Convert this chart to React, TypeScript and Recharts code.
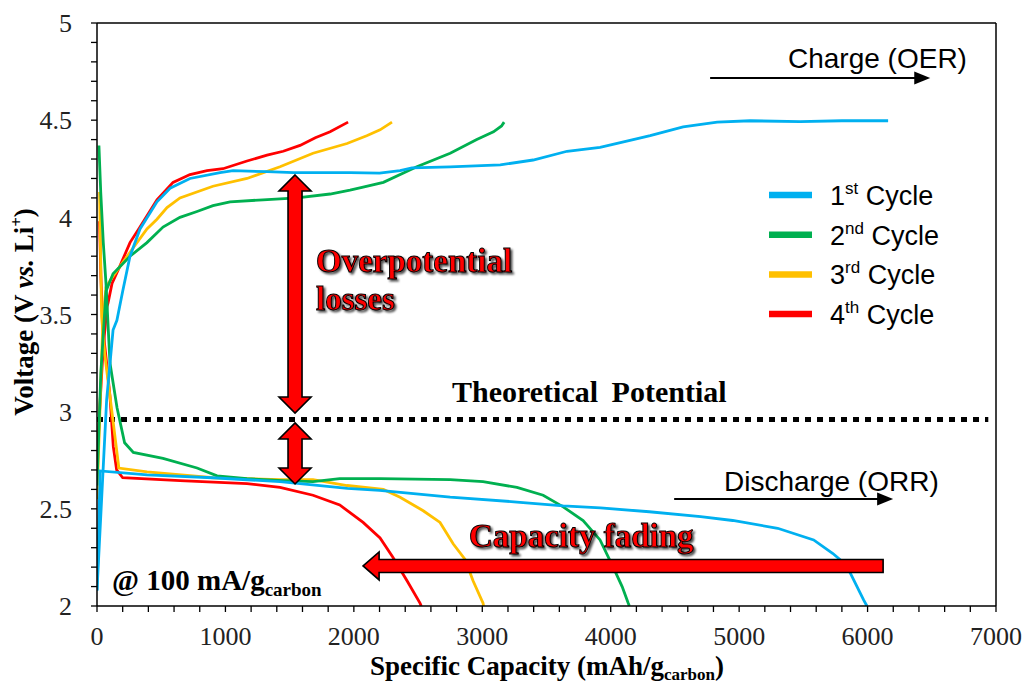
import React from 'react';
import { LineChart, Line, XAxis, YAxis, ReferenceLine } from 'recharts';

// Galvanostatic discharge / charge profiles, [capacity (mAh/g), voltage (V)]
const cycle1Discharge: [number, number][] = [
  [0, 2.08], [25, 2.695], [390, 2.675], [900, 2.66], [1425, 2.64], [1950, 2.605], [2200, 2.595],
  [2750, 2.56], [3270, 2.535], [3630, 2.515], [3920, 2.505], [4300, 2.485], [4700, 2.46], [4950, 2.44],
  [5300, 2.4], [5580, 2.34], [5730, 2.27], [5800, 2.23], [5865, 2.17], [5940, 2.07], [5970, 2.03], [5995, 2.0],
];
const cycle1Charge: [number, number][] = [
  [0, 2.08], [75, 3.06], [125, 3.42], [155, 3.47], [200, 3.62], [257, 3.8], [335, 3.94], [467, 4.08],
  [569, 4.15], [724, 4.2], [958, 4.23], [1060, 4.24], [1324, 4.235], [1530, 4.23], [1970, 4.23], [2200, 4.228],
  [2360, 4.24], [2453, 4.255], [2750, 4.26], [3140, 4.27], [3396, 4.295], [3660, 4.34], [3917, 4.36],
  [4175, 4.4], [4307, 4.42], [4564, 4.465], [4829, 4.49], [5086, 4.497], [5475, 4.492], [5800, 4.497], [6160, 4.497],
];
const cycle2Discharge: [number, number][] = [
  [15, 4.37], [29, 4.13], [49, 3.87], [70, 3.66], [88, 3.42], [101, 3.25], [156, 3.02], [215, 2.84],
  [283, 2.79], [514, 2.76], [779, 2.71], [935, 2.67], [1168, 2.655], [1450, 2.645], [1682, 2.64],
  [1890, 2.655], [2204, 2.655], [2750, 2.65], [3006, 2.64], [3270, 2.61], [3474, 2.57], [3630, 2.51],
  [3785, 2.44], [3917, 2.34], [4019, 2.2], [4089, 2.1], [4136, 2.015], [4145, 2.0],
];
const cycle2Charge: [number, number][] = [
  [0, 2.62], [30, 3.2], [70, 3.62], [125, 3.71], [257, 3.8], [389, 3.87], [514, 3.95], [646, 4.0],
  [779, 4.03], [903, 4.06], [1036, 4.08], [1293, 4.09], [1558, 4.1], [1815, 4.12], [1970, 4.14],
  [2072, 4.155], [2230, 4.18], [2490, 4.26], [2750, 4.33], [2957, 4.4], [3087, 4.44], [3150, 4.47], [3170, 4.49],
];
const cycle3Discharge: [number, number][] = [
  [20, 4.13], [36, 3.49], [60, 3.3], [78, 3.2], [101, 3.08], [170, 2.71], [390, 2.69], [903, 2.66],
  [1425, 2.65], [1682, 2.65], [1947, 2.62], [2230, 2.6], [2360, 2.56], [2540, 2.49], [2671, 2.43],
  [2773, 2.32], [2866, 2.24], [2928, 2.13], [3006, 2.015], [3010, 2.0],
];
const cycle3Charge: [number, number][] = [
  [0, 2.55], [20, 2.95], [45, 3.45], [70, 3.64], [117, 3.69], [257, 3.82], [389, 3.94], [467, 3.99],
  [545, 4.05], [646, 4.1], [903, 4.16], [1168, 4.2], [1425, 4.26], [1682, 4.33], [1947, 4.38],
  [2100, 4.42], [2204, 4.45], [2297, 4.49],
];
const cycle4Discharge: [number, number][] = [
  [20, 3.98], [30, 3.7], [47, 3.42], [75, 3.25], [101, 3.08], [127, 2.82], [153, 2.7], [200, 2.66],
  [646, 2.645], [1168, 2.63], [1425, 2.61], [1682, 2.57], [1890, 2.52], [2072, 2.43], [2204, 2.35],
  [2305, 2.25], [2414, 2.13], [2515, 2.015], [2525, 2.0],
];
const cycle4Charge: [number, number][] = [
  [0, 2.72], [20, 3.0], [47, 3.32], [78, 3.54], [86, 3.56], [117, 3.66], [179, 3.75], [257, 3.87],
  [335, 3.95], [467, 4.09], [592, 4.18], [724, 4.22], [857, 4.24], [981, 4.25], [1168, 4.29],
  [1324, 4.32], [1450, 4.34], [1581, 4.37], [1700, 4.41], [1815, 4.44], [1955, 4.49],
];

const cycleNames = ['1st', '2nd', '3rd', '4th'];
const cycleColors = ['#00b0f0', '#00b050', '#ffc000', '#ff0000'];

const xMajorTicks = [0, 1000, 2000, 3000, 4000, 5000, 6000, 7000];
const yMajorTicks = [2, 2.5, 3, 3.5, 4, 4.5, 5];
const xTicks = Array.from({ length: 36 }, (_, i) => i * 200);
const yTicks = Array.from({ length: 31 }, (_, i) => Math.round((2 + i * 0.1) * 10) / 10);

const theoreticalPotential = 2.96;

const toPoints = (arr: [number, number][]) => arr.map(([cap, v]) => ({ cap, v }));

const serif = '"Liberation Serif", "Times New Roman", serif';
const sans = '"Liberation Sans", Arial, sans-serif';

const isMajor = (list: number[], v: number) => list.some((t) => Math.abs(t - v) < 1e-6);

// Axis tick labels: only the major ticks carry text, minor ticks are bare marks
const renderXTick = (props: any) => {
  const { x, y, payload } = props;
  if (!isMajor(xMajorTicks, payload.value)) return <g />;
  return (
    <text x={x} y={y} dy="0.71em" textAnchor="middle" fill="#222" fontFamily={serif} fontSize={26}>
      {String(payload.value)}
    </text>
  );
};

const renderYTick = (props: any) => {
  const { x, y, payload } = props;
  if (!isMajor(yMajorTicks, payload.value)) return <g />;
  return (
    <text x={x} y={y} dy="0.355em" textAnchor="end" fill="#222" fontFamily={serif} fontSize={26}>
      {String(payload.value)}
    </text>
  );
};

// Block double arrow between two points on a vertical segment
const DoubleArrow = (props: any) => {
  const { x1, y1, y2 } = props;
  const hw = 7, hh = 16, hl = 16;
  const top = Math.min(y1, y2), bot = Math.max(y1, y2);
  const x = x1;
  const pts = [
    [x, top], [x + hh, top + hl], [x + hw, top + hl], [x + hw, bot - hl], [x + hh, bot - hl],
    [x, bot], [x - hh, bot - hl], [x - hw, bot - hl], [x - hw, top + hl], [x - hh, top + hl],
  ].map((p) => p.join(',')).join(' ');
  return <polygon points={pts} fill="#ff0000" stroke="#000" strokeWidth={1.6} />;
};

// Block arrow pointing to the segment's second point (leftwards)
const LeftArrow = (props: any) => {
  const { x1, x2, y1 } = props;
  const hw = 6.5, hh = 14, hl = 16;
  const xr = x1, xl = x2, y = y1;
  const pts = [
    [xl, y], [xl + hl, y - hh], [xl + hl, y - hw], [xr, y - hw], [xr, y + hw], [xl + hl, y + hw], [xl + hl, y + hh],
  ].map((p) => p.join(',')).join(' ');
  return <polygon points={pts} fill="#ff0000" stroke="#000" strokeWidth={1.6} />;
};

// Thin arrow pointing right
const ThinArrow = (props: any) => {
  const { x1, x2, y1 } = props;
  return (
    <g>
      <line x1={x1} y1={y1} x2={x2 - 12} y2={y1} stroke="#000" strokeWidth={2} />
      <polygon points={`${x2},${y1} ${x2 - 16},${y1 - 6.5} ${x2 - 16},${y1 + 6.5}`} fill="#000" />
    </g>
  );
};

const series = [
  { name: 'c4d', data: cycle4Discharge, color: cycleColors[3] },
  { name: 'c4c', data: cycle4Charge, color: cycleColors[3] },
  { name: 'c3d', data: cycle3Discharge, color: cycleColors[2] },
  { name: 'c3c', data: cycle3Charge, color: cycleColors[2] },
  { name: 'c2d', data: cycle2Discharge, color: cycleColors[1] },
  { name: 'c2c', data: cycle2Charge, color: cycleColors[1] },
  { name: 'c1d', data: cycle1Discharge, color: cycleColors[0] },
  { name: 'c1c', data: cycle1Charge, color: cycleColors[0] },
];

const redText = {
  fill: '#ff0000',
  stroke: '#000',
  strokeWidth: 1,
  fontFamily: serif,
  fontWeight: 'bold' as const,
  filter: 'url(#txtShadow)',
};

export default function App() {
  return (
    <div style={{ position: 'absolute', left: 0, top: 0, width: 1026, height: 685, background: '#fff' }}>
      <LineChart width={1026} height={685} margin={{ top: 23, right: 30, bottom: 49, left: 57 }}>
        <XAxis
          type="number"
          dataKey="cap"
          domain={[0, 7000]}
          ticks={xTicks}
          interval={0}
          allowDataOverflow
          height={30}
          tickSize={6}
          tickMargin={15}
          tick={renderXTick}
          axisLine={{ stroke: '#000', strokeWidth: 1.5 }}
          tickLine={{ stroke: '#000', strokeWidth: 1.3 }}
        />
        <YAxis
          type="number"
          dataKey="v"
          domain={[2, 5]}
          ticks={yTicks}
          interval={0}
          allowDataOverflow
          width={40}
          tickSize={6}
          tickMargin={19}
          tick={renderYTick}
          axisLine={{ stroke: '#000', strokeWidth: 1.5 }}
          tickLine={{ stroke: '#000', strokeWidth: 1.3 }}
        />
        <ReferenceLine y={5} stroke="#000" strokeWidth={1.5} />
        <ReferenceLine x={7000} stroke="#000" strokeWidth={1.5} />
        <ReferenceLine
          segment={[{ x: 0, y: theoreticalPotential }, { x: 6940, y: theoreticalPotential }]}
          stroke="#000"
          strokeWidth={5}
          strokeDasharray="6 6"
        />
        {series.map((s) => (
          <Line
            key={s.name}
            data={toPoints(s.data)}
            dataKey="v"
            type="linear"
            stroke={s.color}
            strokeWidth={2.8}
            dot={false}
            activeDot={false}
            isAnimationActive={false}
          />
        ))}
        <ReferenceLine segment={[{ x: 1542, y: 4.218 }, { x: 1542, y: 2.993 }]} shape={<DoubleArrow />} />
        <ReferenceLine segment={[{ x: 1542, y: 2.942 }, { x: 1542, y: 2.628 }]} shape={<DoubleArrow />} />
        <ReferenceLine segment={[{ x: 6121, y: 2.206 }, { x: 2072, y: 2.206 }]} shape={<LeftArrow />} />
        <ReferenceLine segment={[{ x: 4774, y: 4.717 }, { x: 6488, y: 4.717 }]} shape={<ThinArrow />} />
        <ReferenceLine segment={[{ x: 4494, y: 2.551 }, { x: 6199, y: 2.551 }]} shape={<ThinArrow />} />
      </LineChart>

      <svg
        width={1026}
        height={685}
        style={{ position: 'absolute', left: 0, top: 0, pointerEvents: 'none' }}
      >
        <defs>
          <filter id="txtShadow" x="-10%" y="-20%" width="130%" height="150%">
            <feDropShadow dx="2" dy="2" stdDeviation="0.8" floodColor="#000" floodOpacity="0.7" />
          </filter>
        </defs>

        {/* axis titles */}
        <text
          transform="translate(33,312) rotate(-90)"
          textAnchor="middle"
          fontFamily={serif}
          fontWeight="bold"
          fontSize={27}
          fill="#000"
        >
          Voltage (V <tspan fontStyle="italic">vs.</tspan> Li<tspan fontSize={17} dy={-11}>+</tspan>
          <tspan dy={11}>)</tspan>
        </text>
        <text x={547} y={675} textAnchor="middle" fontFamily={serif} fontWeight="bold" fontSize={27} fill="#000">
          Specific Capacity (mAh/g<tspan fontSize={17} dy={5}>carbon</tspan>
          <tspan dy={-5}>)</tspan>
        </text>

        {/* annotations */}
        <text x={788} y={68} fontFamily={sans} fontSize={28} fill="#000">Charge (OER)</text>
        <text x={724} y={491} fontFamily={sans} fontSize={28} fill="#000">Discharge (ORR)</text>
        <text x={452} y={402} fontFamily={serif} fontWeight="bold" fontSize={30} fill="#000" style={{ wordSpacing: 6 }}>
          Theoretical Potential
        </text>
        <text x={316} y={272} fontSize={33} {...redText}>Overpotential</text>
        <text x={316} y={310} fontSize={33} {...redText}>losses</text>
        <text x={469} y={547} fontSize={33} {...redText}>Capacity fading</text>
        <text x={112} y={590} fontFamily={serif} fontWeight="bold" fontSize={29} fill="#000">
          @ 100 mA/g<tspan fontSize={19} dy={6}>carbon</tspan>
        </text>

        {/* legend */}
        {cycleNames.map((n, i) => {
          const cy = 195 + i * 39.7;
          const num = n.slice(0, 1);
          const suf = n.slice(1);
          return (
            <g key={n}>
              <line x1={769} y1={cy} x2={812} y2={cy} stroke={cycleColors[i]} strokeWidth={6.5} />
              <text x={830} y={cy + 10} fontFamily={sans} fontSize={27} fill="#000">
                {num}
                <tspan fontSize={17} dy={-11}>{suf}</tspan>
                <tspan dy={11}> Cycle</tspan>
              </text>
            </g>
          );
        })}
      </svg>
    </div>
  );
}
